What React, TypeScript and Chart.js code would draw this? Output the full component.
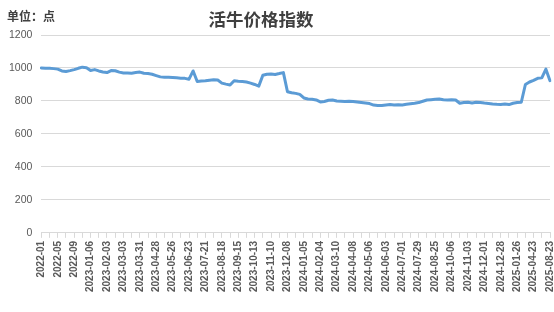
import React, { useEffect, useRef } from "react";
import { Chart, registerables } from "chart.js";

Chart.register(...registerables);

const titleText = "活牛价格指数";
const unitText = "单位：点";

const tickLabels = [
  "2022-01", "2022-05", "2022-09", "2023-01-06", "2023-02-03", "2023-03-03", "2023-03-31", "2023-04-28",
  "2023-05-26", "2023-06-23", "2023-07-21", "2023-08-18", "2023-09-15", "2023-10-13", "2023-11-10", "2023-12-08",
  "2024-01-05", "2024-02-04", "2024-03-10", "2024-04-08", "2024-05-06", "2024-06-03", "2024-07-01", "2024-07-29",
  "2024-08-25", "2024-10-06", "2024-11-03", "2024-12-01", "2024-12-28", "2025-01-26", "2025-04-23", "2025-08-23",
];

const priceIndex = [
  1000, 998, 999, 996, 993, 982, 979, 984, 990, 998,
  1005, 1002, 985, 990, 982, 976, 972, 984, 983, 975,
  970, 970, 968, 972, 975, 968, 966, 962, 954, 946,
  944, 943, 942, 940, 938, 937, 932, 982, 918, 921,
  922, 926, 928, 927, 908, 902, 897, 923, 920, 918,
  915, 908, 900, 890, 956, 962, 964, 961, 966, 972,
  856, 850, 846, 840, 818, 812, 810, 806, 794, 797,
  804, 806, 800, 798, 796, 798, 797, 794, 791, 788,
  784, 775, 772, 773, 776, 778, 775, 777, 776, 780,
  783, 786, 790, 798, 806, 808, 810, 812, 807, 806,
  808, 806, 786, 790, 792, 788, 792, 790, 787, 785,
  782, 780, 779, 781, 778, 786, 790, 792, 900, 915,
  925, 937, 940, 993, 923,
];

const yTicks = [0, 200, 400, 600, 800, 1000, 1200];
const labelStep = 4;

export default function App() {
  const canvasRef = useRef<HTMLCanvasElement | null>(null);

  useEffect(() => {
    document.body.style.margin = "0";
    const canvas = canvasRef.current;
    if (!canvas) return;
    const labels = priceIndex.map((_, i) =>
      i % labelStep === 0 ? tickLabels[i / labelStep] ?? "" : ""
    );
    const chart = new Chart(canvas, {
      type: "line",
      data: {
        labels,
        datasets: [
          {
            data: priceIndex,
            borderColor: "#5b9bd5",
            backgroundColor: "#5b9bd5",
            borderWidth: 3,
            pointRadius: 0,
            tension: 0,
            borderJoinStyle: "round",
            borderCapStyle: "round",
          },
        ],
      },
      options: {
        responsive: false,
        animation: false,
        layout: { padding: { top: 35, right: 4, bottom: 17, left: 0 } },
        plugins: {
          legend: { display: false },
          tooltip: { enabled: false },
          title: { display: false },
        },
        scales: {
          x: {
            afterFit: (scale: any) => {
              scale.paddingRight = 0;
              scale.paddingLeft = 0;
            },
            ticks: {
              autoSkip: false,
              minRotation: 90,
              maxRotation: 90,
              padding: 3,
              color: "#595959",
              font: { family: "'Liberation Sans', Arial, sans-serif", size: 10, weight: "bold" },
              callback: (_v: any, i: number) => labels[i],
            },
            grid: {
              drawOnChartArea: false,
              drawTicks: true,
              tickLength: 5,
              tickColor: (ctx: any) => (ctx.index % 2 === 0 ? "#d9d9d9" : "rgba(0,0,0,0)"),
            },
            border: { display: true, color: "#d9d9d9", width: 1 },
          },
          y: {
            min: 0,
            max: 1200,
            afterBuildTicks: (axis: any) => {
              axis.ticks = yTicks.map((v) => ({ value: v }));
            },
            ticks: {
              padding: 9,
              color: "#595959",
              font: { family: "'Liberation Sans', Arial, sans-serif", size: 10.5 },
              callback: (v: any) => String(v),
            },
            grid: { color: "#d9d9d9", drawTicks: false, lineWidth: 1 },
            border: { display: false },
          },
        },
      },
    });
    return () => chart.destroy();
  }, []);

  return (
    <div style={{ position: "absolute", left: 0, top: 0, width: 554, height: 312, background: "#fff" }}>
      <canvas ref={canvasRef} width={554} height={312} />
      <div
        style={{
          position: "absolute",
          left: 7,
          top: 6,
          fontFamily: "'Noto Sans CJK SC', sans-serif",
          fontSize: 12,
          fontWeight: "bold",
          color: "#404040",
          lineHeight: "20px",
          whiteSpace: "nowrap",
        }}
      >
        {unitText}
      </div>
      <div
        style={{
          position: "absolute",
          left: 204,
          top: 7,
          width: 114,
          textAlign: "center",
          fontFamily: "'Noto Sans CJK SC', sans-serif",
          fontSize: 17.5,
          fontWeight: "bold",
          color: "#404040",
          lineHeight: "24px",
          whiteSpace: "nowrap",
        }}
      >
        {titleText}
      </div>
    </div>
  );
}
